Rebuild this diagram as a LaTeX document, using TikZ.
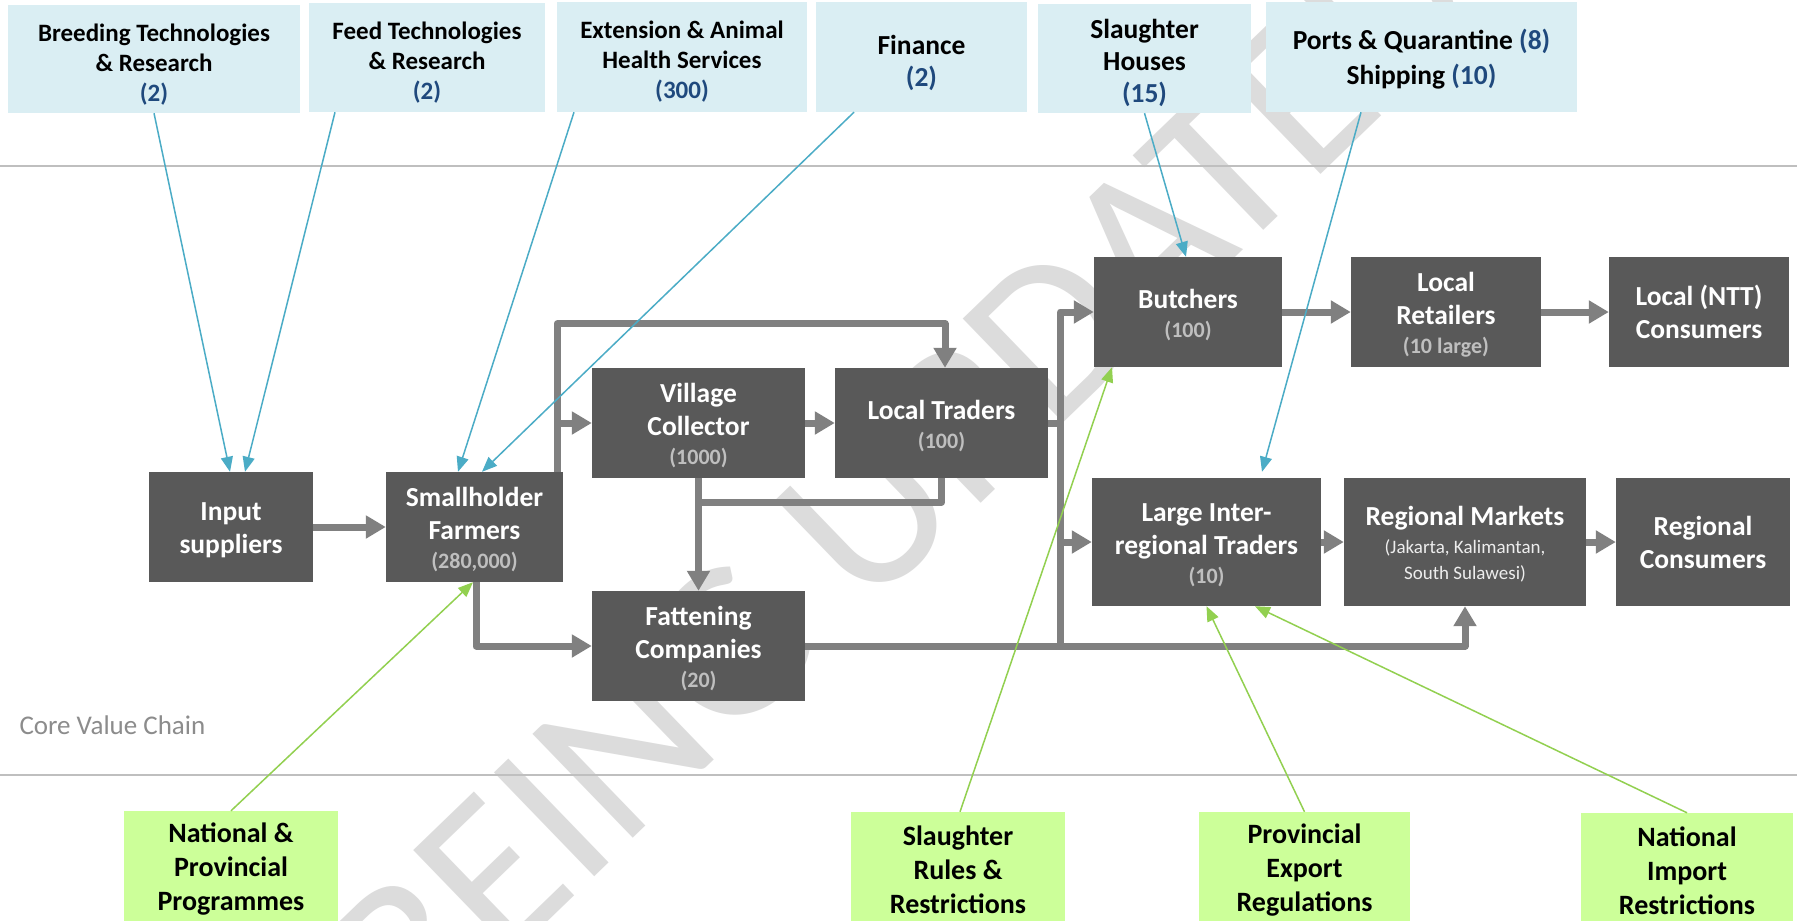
\documentclass[tikz,border=0pt]{standalone}
\usepackage{fontspec}
\setmainfont{Carlito}
\usetikzlibrary{arrows.meta,calc}
\definecolor{topfill}{HTML}{DAEEF3}
\definecolor{corefill}{HTML}{595959}
\definecolor{polfill}{HTML}{CCFF99}
\definecolor{flowgray}{HTML}{808080}
\definecolor{svcblue}{HTML}{4BACC6}
\definecolor{polgreen}{HTML}{92D050}
\definecolor{cblue}{HTML}{1F497D}
\definecolor{cntgray}{HTML}{BFBFBF}
\definecolor{sepgray}{HTML}{BFBFBF}
\definecolor{wmgray}{HTML}{DCDCDC}
\definecolor{labgray}{HTML}{8C8C8C}
\definecolor{subwhite}{HTML}{EDEDED}
\newcommand{\bcnt}[1]{{\color{cblue}#1}}
\newcommand{\gcnt}[1]{{\fontsize{22}{26}\selectfont\color{cntgray}#1}}
\newcommand{\fl}[1]{\rule{0pt}{#1pt}}
\tikzset{
  topbox/.style={fill=topfill, inner sep=0pt, align=center, text=black,
    font=\fontsize{25}{30}\selectfont\bfseries},
  topboxL/.style={topbox, font=\fontsize{27.5}{32}\selectfont\bfseries},
  corebox/.style={fill=corefill, inner sep=0pt, align=center, text=white,
    font=\fontsize{27.5}{33}\selectfont\bfseries},
  polbox/.style={fill=polfill, inner sep=0pt, align=center, text=black,
    font=\fontsize{28}{34}\selectfont\bfseries},
  flow/.style={draw=flowgray, line width=7pt, line join=round,
    -{Triangle[length=20pt,width=22pt]}},
  flowline/.style={draw=flowgray, line width=7pt, line join=round},
  svc/.style={draw=svcblue, line width=1.5pt, -{Triangle[length=15pt,width=12pt]}},
  pol/.style={draw=polgreen, line width=1.5pt, -{Triangle[length=15pt,width=12pt]}},
  sepline/.style={draw=sepgray, line width=2.5pt},
  wm/.style={inner sep=0pt, text=wmgray, rotate=44, font=\fontsize{225}{225}\selectfont},
}
\begin{document}
\begin{tikzpicture}[x=1pt,y=-1pt]
\useasboundingbox (0,0) rectangle (1797,921);
\fill[white] (0,0) rectangle (1797,921);

% watermark
\node[wm] (wmark) at (901,480) {BEING UPDATED};

% separators
\coordinate (s1a) at (0,166);
\coordinate (s1b) at (1797,166);
\coordinate (s2a) at (0,775);
\coordinate (s2b) at (1797,775);
\draw[sepline] (s1a) -- (s1b);
\draw[sepline] (s2a) -- (s2b);

\node[anchor=west, font=\fontsize{27}{30}\selectfont, text=labgray] (cvc) at (16,725) {Core Value Chain};

% top service boxes
\node[topbox, minimum width=292pt, minimum height=108pt] (breed) at (154,59)
  {\fl{29}Breeding Technologies\\\& Research\\\bcnt{(2)}};
\node[topbox, minimum width=236pt, minimum height=109pt] (feed) at (427,57.5)
  {\fl{27}Feed Technologies\\\& Research\\\bcnt{(2)}};
\node[topbox, minimum width=250pt, minimum height=110pt] (ext) at (682,57)
  {\fl{27.5}Extension \& Animal\\Health Services\\\bcnt{(300)}};
\node[topboxL, minimum width=211pt, minimum height=110pt] (fin) at (921.5,57)
  {\fl{32}Finance\\\bcnt{(2)}};
\node[topboxL, minimum width=213pt, minimum height=109pt] (slh) at (1144.5,58.5)
  {\fl{29}Slaughter\\Houses\\\bcnt{(15)}};
\node[topboxL, minimum width=311pt, minimum height=110pt, font=\fontsize{27.5}{35}\selectfont\bfseries] (ports) at (1421.5,57)
  {\fl{25}Ports \& Quarantine \bcnt{(8)}\\Shipping \bcnt{(10)}};

% core boxes
\node[corebox, minimum width=164pt, minimum height=110pt] (inp) at (231,527) {\fl{24.5}Input\\suppliers};
\node[corebox, minimum width=177pt, minimum height=110pt] (small) at (474.5,527) {\fl{25}Smallholder\\Farmers\\[-4pt]\gcnt{(280,000)}};
\node[corebox, minimum width=213pt, minimum height=110pt] (vill) at (698.5,423) {\fl{25}Village\\Collector\\[-4pt]\gcnt{(1000)}};
\node[corebox, minimum width=213pt, minimum height=110pt] (lt) at (941.5,423) {\fl{25}Local Traders\\[-4pt]\gcnt{(100)}};
\node[corebox, minimum width=213pt, minimum height=110pt] (fat) at (698.5,646) {\fl{25}Fattening\\Companies\\[-4pt]\gcnt{(20)}};
\node[corebox, minimum width=188pt, minimum height=110pt] (but) at (1188,312) {\fl{26}Butchers\\[-4pt]\gcnt{(100)}};
\node[corebox, minimum width=190pt, minimum height=110pt] (lr) at (1446,312) {\fl{25}Local\\Retailers\\[-4pt]\gcnt{(10 large)}};
\node[corebox, minimum width=180pt, minimum height=110pt] (lc) at (1699,312) {Local (NTT)\\Consumers};
\node[corebox, minimum width=229pt, minimum height=128pt] (lit) at (1206.5,542) {\fl{25}Large Inter-\\regional Traders\\[-4pt]\gcnt{(10)}};
\node[corebox, minimum width=242pt, minimum height=128pt] (rm) at (1465,542)
  {\fl{24.5}Regional Markets\\[-5pt]{\fontsize{19}{24}\selectfont\mdseries\color{subwhite}(Jakarta, Kalimantan,}\\[-7pt]{\fontsize{19}{24}\selectfont\mdseries\color{subwhite}South Sulawesi)}};
\node[corebox, minimum width=174pt, minimum height=128pt] (rc) at (1703,542) {Regional\\Consumers};

% policy boxes
\node[polbox, minimum width=214pt, minimum height=116pt] (nat) at (231,869) {National \&\\Provincial\\Programmes};
\node[polbox, minimum width=214pt, minimum height=116pt] (slr) at (958,870) {Slaughter\\Rules \&\\Restrictions};
\node[polbox, minimum width=211pt, minimum height=116pt] (pe) at (1304.5,870) {Provincial\\Export\\Regulations};
\node[polbox, minimum width=212pt, minimum height=116pt] (ni) at (1687,871) {National\\Import\\Restrictions};

% helper coordinates
\coordinate (sv) at ([xshift=-6pt]small.north east);
\coordinate (sb) at ([xshift=1.5pt]small.south);
\coordinate (tr) at ([xshift=12pt]lt.east);

% core flows
\draw[flow] (inp.east) -- (small.west);
\draw[flow] (sv) -- ++(0,-148) -| ([xshift=3.5pt]lt.north);
\draw[flow] (sv |- vill.west) -- (vill.west);
\draw[flow] (vill.east) -- (lt.west);
\draw[flowline] (lt.south) |- ([yshift=-24pt]vill.south);
\draw[flow] (vill.south) -- (fat.north);
\draw[flow] (sb) |- (fat.west);
\draw[flow] (fat.east) -| (rm.south);
\draw[flowline] (lt.east) -- (tr);
\draw[flow] (tr |- fat.east) |- (but.west);
\draw[flow] (tr |- lit.west) -- (lit.west);
\draw[flow] (but.east) -- (lr.west);
\draw[flow] (lr.east) -- (lc.west);
\draw[flow] (lit.east) -- (rm.west);
\draw[flow] (rm.east) -- (rc.west);

% service links
\draw[svc] (breed.south) -- ([xshift=-1pt]inp.north);
\draw[svc] ([xshift=-92pt]feed.south) -- ([xshift=14pt]inp.north);
\draw[svc] ([xshift=-108pt]ext.south) -- ([xshift=-16.5pt]small.north);
\draw[svc] ([xshift=-67.5pt]fin.south) -- ([xshift=7.5pt]small.north);
\draw[svc] (slh.south) -- ([xshift=-2pt]but.north);
\draw[svc] ([xshift=-60.5pt]ports.south) -- ([xshift=55.5pt,yshift=6pt]lit.north);

% policy links
\draw[pol] (nat.north) -- ([xshift=-1.5pt]small.south);
\draw[pol] ([xshift=2pt]slr.north) -- ([xshift=-76pt]but.south);
\draw[pol] (pe.north) -- (lit.south);
\draw[pol] (ni.north) -- ([xshift=48.5pt]lit.south);
\end{tikzpicture}
\end{document}
